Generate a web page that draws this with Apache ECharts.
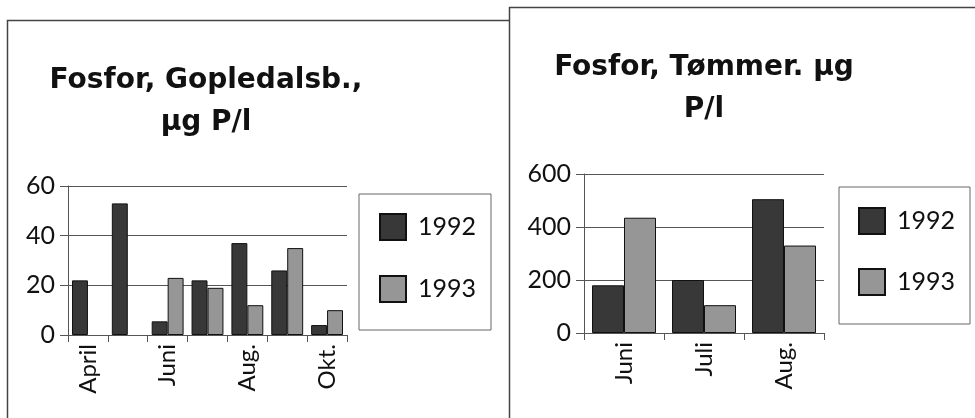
<!DOCTYPE html>
<html>
<head>
<meta charset="utf-8">
<title>Fosfor</title>
<script src="https://cdn.jsdelivr.net/npm/echarts@6/dist/echarts.min.js"></script>
<style>
  html, body { margin: 0; padding: 0; background: #fff; }
  #chart { width: 975px; height: 418px; }
</style>
</head>
<body>
<div id="chart"></div>
<script>
// Gopledalsbækken, monthly
const gopMonths = ['April', 'Mai', 'Juni', 'Juli', 'Aug.', 'Sep.', 'Okt.']
const gop1992 = [22, 53, 5.5, 22, 37, 26, 4]
const gop1993 = [null, null, 23, 19, 12, 35, 10]
const gopTicks = [0, 20, 40, 60]

// Tømmer
const tomMonths = ['Juni', 'Juli', 'Aug.']
const tom1992 = [180, 200, 505]
const tom1993 = [435, 105, 330]
const tomTicks = [0, 200, 400, 600]

const years = ['1992', '1993']
const FONT = 'Lato, "Open Sans", sans-serif'
const dark = '#383838'
const light = '#969696'

const chart = echarts.init(document.getElementById('chart'))

function yAxis(idx, ticks) {
  return {
    type: 'value',
    gridIndex: idx,
    min: ticks[0],
    max: ticks[ticks.length - 1],
    interval: ticks[1] - ticks[0],
    axisLine: { show: true, lineStyle: { color: '#555', width: 1 } },
    axisTick: { show: true, inside: false, length: 8, lineStyle: { color: '#555' } },
    axisLabel: { color: '#111', fontFamily: FONT, fontSize: 25, margin: 13 },
    splitLine: { show: true, lineStyle: { color: '#555', width: 1 } }
  }
}

function xAxis(idx, months, labelInterval) {
  return {
    type: 'category',
    gridIndex: idx,
    data: months,
    axisLine: { show: true, lineStyle: { color: '#555', width: 1 } },
    axisTick: { show: true, interval: 0, alignWithLabel: false, length: 7, lineStyle: { color: '#555' } },
    axisLabel: { interval: labelInterval, rotate: 90, color: '#111', fontFamily: FONT, fontSize: 24, margin: 9 }
  }
}

function bars(name, data, color, idx) {
  return {
    name: name,
    type: 'bar',
    xAxisIndex: idx,
    yAxisIndex: idx,
    data: data,
    barGap: '0%',
    barCategoryGap: '20%',
    itemStyle: { color: color, borderColor: '#111', borderWidth: 1 },
    animation: false
  }
}

function legend(left, top, padding, gap) {
  return {
    orient: 'vertical',
    left: left,
    top: top,
    data: years,
    icon: 'rect',
    itemWidth: 26,
    itemHeight: 26,
    itemGap: gap,
    padding: padding,
    borderColor: '#666',
    borderWidth: 1,
    backgroundColor: '#fff',
    selectedMode: false,
    textStyle: { color: '#111', fontFamily: FONT, fontSize: 25, padding: [0, 0, 0, 7] }
  }
}

const titleStyle = { color: '#111', fontFamily: '"DejaVu Sans", sans-serif', fontSize: 28, fontWeight: 'bold', lineHeight: 42 }

chart.setOption({
  backgroundColor: '#fff',
  graphic: [
    // frames of the two pasted charts
    { type: 'rect', z: 0, shape: { x: 7.5, y: 20.5, width: 600, height: 420 }, style: { fill: '#fff', stroke: '#444', lineWidth: 1.5 } },
    { type: 'rect', z: 0, shape: { x: 509.5, y: 7.5, width: 500, height: 420 }, style: { fill: '#fff', stroke: '#444', lineWidth: 1.5 } }
  ],
  title: [
    { text: 'Fosfor, Gopledalsb.,\nµg P/l', left: 201, top: 55, textAlign: 'center', textStyle: titleStyle },
    { text: 'Fosfor, Tømmer. µg\nP/l', left: 699, top: 42, textAlign: 'center', textStyle: titleStyle }
  ],
  legend: [
    legend(359, 194, [19, 15, 27, 20], 34),
    legend(839, 187, [20, 15, 28, 19], 33)
  ],
  grid: [
    { left: 68, top: 186, width: 279, height: 149 },
    { left: 584, top: 174, width: 240, height: 159 }
  ],
  xAxis: [xAxis(0, gopMonths, 1), xAxis(1, tomMonths, 0)],
  yAxis: [yAxis(0, gopTicks), yAxis(1, tomTicks)],
  series: [
    bars('1992', gop1992, dark, 0),
    bars('1993', gop1993, light, 0),
    bars('1992', tom1992, dark, 1),
    bars('1993', tom1993, light, 1)
  ]
})
</script>
</body>
</html>
